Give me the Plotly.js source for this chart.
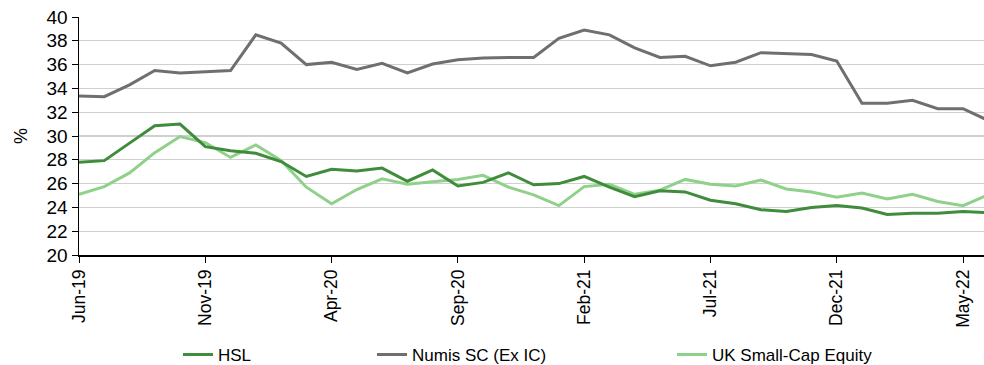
<!DOCTYPE html>
<html>
<head>
<meta charset="utf-8">
<script src="https://cdn.plot.ly/plotly-3.0.1.min.js"></script>
<style>html,body{margin:0;padding:0;background:#fff}#chart{width:984px;height:365px}</style>
</head>
<body>
<div id="chart"></div>
<script>
const months = ["Jun-19","Jul-19","Aug-19","Sep-19","Oct-19","Nov-19","Dec-19","Jan-20","Feb-20","Mar-20","Apr-20","May-20","Jun-20","Jul-20","Aug-20","Sep-20","Oct-20","Nov-20","Dec-20","Jan-21","Feb-21","Mar-21","Apr-21","May-21","Jun-21","Jul-21","Aug-21","Sep-21","Oct-21","Nov-21","Dec-21","Jan-22","Feb-22","Mar-22","Apr-22","May-22","Jun-22"];
const tickLabels = ["Jun-19","Nov-19","Apr-20","Sep-20","Feb-21","Jul-21","Dec-21","May-22"];
const hsl = [27.8,27.93,29.4,30.87,31.0,29.1,28.77,28.55,27.85,26.6,27.2,27.05,27.3,26.2,27.15,25.8,26.1,26.9,25.9,26.0,26.6,25.7,24.9,25.4,25.3,24.6,24.3,23.8,23.65,24.0,24.15,23.95,23.4,23.5,23.5,23.65,23.55];
const numis = [33.36,33.3,34.3,35.5,35.3,35.4,35.5,38.5,37.8,36.0,36.2,35.6,36.1,35.3,36.05,36.4,36.55,36.6,36.6,38.2,38.9,38.5,37.4,36.6,36.7,35.9,36.2,37.0,36.9,36.85,36.3,32.75,32.75,33.0,32.3,32.3,31.3];
const ukSmall = [25.1,25.75,26.9,28.6,29.95,29.45,28.2,29.25,27.95,25.7,24.3,25.5,26.4,25.95,26.15,26.35,26.7,25.7,25.05,24.15,25.75,25.95,25.1,25.45,26.35,25.95,25.8,26.3,25.55,25.3,24.85,25.2,24.7,25.1,24.5,24.15,25.05];
const names = ["HSL","Numis SC (Ex IC)","UK Small-Cap Equity"];
const colors = ["#3f8c3a","#6f6f6f","#8fd18a"];

const FONT = '"Liberation Sans", Arial, sans-serif';
const series = [hsl, numis, ukSmall];
const legendIds = ["legend","legend2","legend3"];
const traces = series.map((s,i)=>({
  x: months, y: s, type:'scatter', mode:'lines', name: names[i],
  line:{color:colors[i], width:3}, legend: legendIds[i]
}));
const order = [traces[1], traces[2], traces[0]];

const legendBase = {orientation:'h', yanchor:'middle', y:-0.42, xanchor:'left',
  font:{family:FONT, size:17, color:'#000'}, bgcolor:'rgba(0,0,0,0)', tracegroupgap:0};
const layout = {
  width:984, height:365,
  margin:{l:79, r:0, t:17, b:110, autoexpand:false},
  paper_bgcolor:'#fff', plot_bgcolor:'#fff',
  font:{family:FONT, size:18, color:'#000'},
  showlegend:true,
  legend: Object.assign({}, legendBase, {x:(178-79)/905}),
  legend2: Object.assign({}, legendBase, {x:(372-79)/905}),
  legend3: Object.assign({}, legendBase, {x:(672-79)/905}),
  xaxis:{
    type:'category', range:[0, 35.83],
    tickmode:'array', tickvals: tickLabels, ticktext: tickLabels,
    tickangle:-90, ticks:'outside', ticklen:6, tickcolor:'#000',
    showline:true, linecolor:'#000', linewidth:1.5,
    showgrid:false, zeroline:false, automargin:false,
    tickfont:{family:FONT, size:17.5, color:'#000'}
  },
  yaxis:{
    range:[20,40], dtick:2, tick0:20,
    ticks:'outside', ticklen:6, tickcolor:'#000',
    showline:true, linecolor:'#000', linewidth:1.5,
    showgrid:true, gridcolor:'#d0d0d0', gridwidth:1.2, zeroline:false, automargin:false,
    tickfont:{family:FONT, size:19, color:'#000'},
    title:{text:'%', font:{family:FONT, size:18, color:'#000'}, standoff:14}
  }
};
Plotly.newPlot('chart', order, layout, {staticPlot:true, displayModeBar:false});
</script>
</body>
</html>
